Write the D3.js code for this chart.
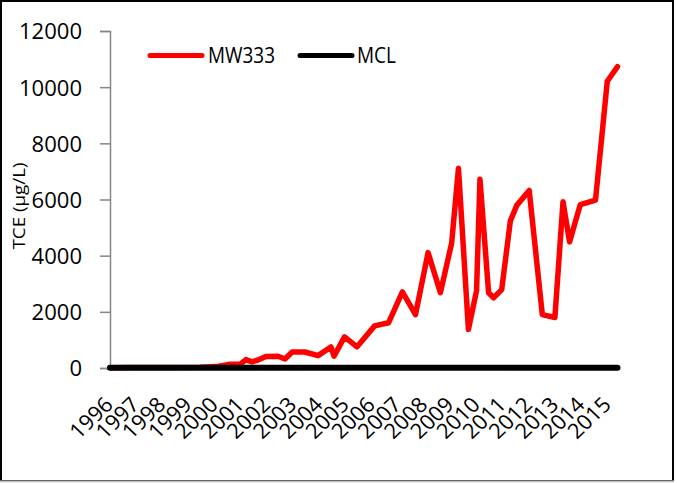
<!DOCTYPE html>
<html>
<head>
<meta charset="utf-8">
<script src="https://cdn.jsdelivr.net/npm/d3@7"></script>
<style>
  html, body { margin: 0; padding: 0; background: #fff; }
  svg { display: block; }
  text { font-family: "Open Sans", "Liberation Sans", sans-serif; fill: #000; }
</style>
</head>
<body>
<svg id="chart" width="677" height="483"></svg>
<script>
// ---- data ----
const sampleYears = [1996.0,1996.69,1997.53,1998.48,1999.44,2000.05,2000.54,2000.96,2001.19,2001.42,
  2001.65,2001.95,2002.41,2002.68,2002.95,2003.44,2003.94,2004.43,2004.55,2004.95,
  2005.43,2006.10,2006.63,2007.16,2007.66,2008.14,2008.61,2009.04,2009.30,2009.68,
  2009.99,2010.12,2010.45,2010.64,2010.95,2011.28,2011.53,2012.00,2012.50,2012.98,
  2013.29,2013.54,2013.95,2014.53,2014.98,2015.37];
const mw333 = [10,15,15,20,30,50,130,130,300,220,
  285,410,420,320,570,570,440,750,420,1110,
  755,1500,1610,2710,1900,4110,2680,4450,7110,1370,
  2750,6720,2680,2500,2790,5240,5800,6320,1900,1800,
  5920,4490,5820,5980,10210,10730];
const mclYears = [1996.0, 2015.37];
const mclValues = [5, 5];
const yearLabels = ["1996","1997","1998","1999","2000","2001","2002","2003","2004","2005",
  "2006","2007","2008","2009","2010","2011","2012","2013","2014","2015"];
const yTicks = [0,2000,4000,6000,8000,10000,12000];
const seriesNames = ["MW333","MCL"];
const seriesColors = ["#ff0000","#000000"];

// ---- drawing ----
const svg = d3.select("#chart");

// outer frame
svg.append("rect").attr("x",1).attr("y",1).attr("width",672).attr("height",480)
  .attr("fill","#fff").attr("stroke","#000").attr("stroke-width",2);
svg.append("line").attr("x1",0).attr("x2",674).attr("y1",481.5).attr("y2",481.5)
  .attr("stroke","#c8c8c8").attr("stroke-width",2);

const x = d3.scaleLinear().domain([1996, 2015.4]).range([110, 618.3]);
const y = d3.scaleLinear().domain([0, 12000]).range([368, 31]);

// y axis
const yAxis = svg.append("g").attr("transform","translate(110,0)")
  .call(d3.axisLeft(y).tickValues(yTicks).tickFormat(d3.format("d")).tickSize(10).tickPadding(18));
yAxis.select(".domain").attr("stroke","#868686").attr("stroke-width",1.5);
yAxis.selectAll(".tick line").attr("stroke","#868686").attr("stroke-width",1.5);
yAxis.selectAll(".tick text").attr("font-size",22).attr("font-family",null)
  .attr("dy","0.36em");

// x axis
const xAxis = svg.append("g").attr("transform","translate(0,368)")
  .call(d3.axisBottom(x).tickValues(yearLabels.map(Number)).tickFormat(d => String(d)).tickSize(0));
xAxis.select(".domain").attr("stroke","#868686").attr("stroke-width",1.5);
xAxis.selectAll(".tick text")
  .attr("font-size",21).attr("font-family",null)
  .attr("y",null).attr("dy",null)
  .attr("text-anchor","end")
  .attr("transform","translate(4,38) scale(1.05,1) rotate(-45)");

// y axis title
svg.append("text").attr("transform","translate(25,206) rotate(-90)")
  .attr("text-anchor","middle").attr("font-size",17).attr("class","ytitle")
  .text("TCE (µg/L)");

// lines
const line = d3.line().x(d => x(d[0])).y(d => y(d[1]));
svg.append("path").datum(d3.zip(sampleYears, mw333))
  .attr("d", line).attr("fill","none").attr("stroke",seriesColors[0])
  .attr("stroke-width",5.5).attr("stroke-linejoin","round").attr("stroke-linecap","round");
svg.append("path").datum(d3.zip(mclYears, mclValues))
  .attr("d", line).attr("fill","none").attr("stroke",seriesColors[1])
  .attr("stroke-width",6).attr("stroke-linejoin","round").attr("stroke-linecap","round");

// legend
const legendItems = [
  {x1:150, x2:202, tx:208, w:67},
  {x1:300, x2:352, tx:357, w:39}
];
legendItems.forEach((it, i) => {
  svg.append("line").attr("x1",it.x1).attr("x2",it.x2).attr("y1",55.5).attr("y2",55.5)
    .attr("stroke",seriesColors[i]).attr("stroke-width",5).attr("stroke-linecap","round");
  svg.append("text").attr("x",it.tx).attr("y",63).attr("font-size",21)
    .attr("textLength",it.w).attr("lengthAdjust","spacingAndGlyphs")
    .text(seriesNames[i]);
});

// match y tick label widths to reference proportions
const yt = yAxis.selectAll(".tick text").nodes();
const ref = yt[yt.length-1].getComputedTextLength();
const k = 63 / ref;
yt.forEach(n => {
  const w = n.getComputedTextLength();
  d3.select(n).attr("textLength", w*k).attr("lengthAdjust","spacingAndGlyphs");
});
d3.select(svg.select(".ytitle").node()).attr("textLength",87).attr("lengthAdjust","spacingAndGlyphs");
</script>
</body>
</html>
